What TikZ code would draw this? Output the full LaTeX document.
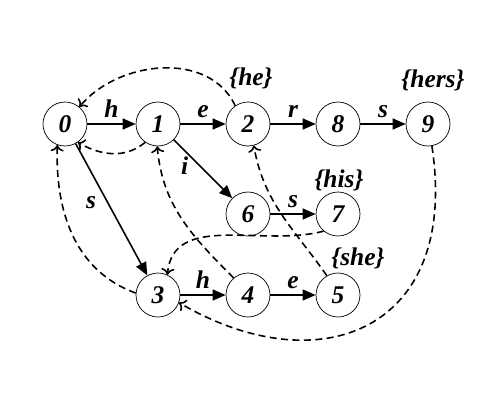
\documentclass[tikz,border=0pt]{standalone}
\usepackage{fontspec}
\setmainfont{Liberation Serif}
\usetikzlibrary{arrows.meta}
\begin{document}
\begin{tikzpicture}[x=0.02cm, y=-0.02cm,
    font=\fontsize{14.5}{17}\selectfont\bfseries\itshape,
    state/.style={draw, circle, minimum size=0.88cm, inner sep=0pt, fill=white},
    goto/.style={-{Triangle[length=2.6mm,width=2.2mm]}, line width=0.9pt},
    fail/.style={->, dashed, line width=0.9pt, dash pattern=on 4pt off 2.5pt},
    outset/.style={inner sep=1pt}]

    \useasboundingbox (0,0) rectangle (500,400);

    \node [state] at (65,124) (S0) {0};
    \node [state] at (158,124) (S1) {1};
    \node [state] at (248,124) (S2) {2};
    \node [state] at (338,124) (S8) {8};
    \node [state] at (428,124) (S9) {9};
    \node [state] at (248,214) (S6) {6};
    \node [state] at (338,214) (S7) {7};
    \node [state] at (158,295) (S3) {3};
    \node [state] at (248,295) (S4) {4};
    \node [state] at (338,295) (S5) {5};

    \node [outset] at (251,78) (O2) {\{he\}};
    \node [outset] at (433,80) (O9) {\{hers\}};
    \node [outset] at (339,180) (O7) {\{his\}};
    \node [outset] at (358,258) (O5) {\{she\}};

    \path [goto, draw] (S0) -- node[above] {h} (S1);
    \path [goto, draw] (S1) -- node[above] {e} (S2);
    \path [goto, draw] (S2) -- node[above] {r} (S8);
    \path [goto, draw] (S8) -- node[above] {s} (S9);
    \path [goto, draw] (S1) -- node[left=3pt, pos=0.45] {i} (S6);
    \path [goto, draw] (S6) -- node[above] {s} (S7);
    \path [goto, draw] (S0) -- node[left=3pt, pos=0.45] {s} (S3);
    \path [goto, draw] (S3) -- node[above] {h} (S4);
    \path [goto, draw] (S4) -- node[above] {e} (S5);

    \path [fail, draw] (S2.125) to[out=115,in=50] (S0.50);
    \path [fail, draw] (S1.235) to[out=220,in=-30] (S0.305);
    \path [fail, draw] (S3.175) to[out=160,in=268] (S0.250);
    \path [fail, draw] (S4.130) to[out=135,in=275] (S1.268);
    \path [fail, draw] (S5.120) to[out=125,in=280] (S2.285);
    \path [fail, draw] (S7.230) to[out=195,in=85] (S3.65);
    \path [fail, draw] (S9.280) .. controls (460,330) and (320,385) .. (S3.-20);

\end{tikzpicture}
\end{document}
